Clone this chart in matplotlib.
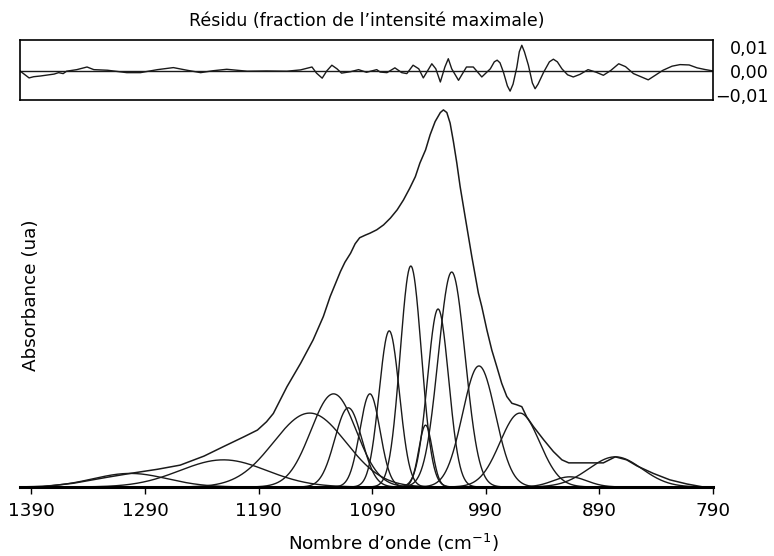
import numpy as np
import matplotlib
matplotlib.use("Agg")
import matplotlib.pyplot as plt

plt.rcParams['font.family'] = ['DejaVu Sans']

# measured spectrum (envelope), wavenumber in cm-1, absorbance normalised to max
env_wn = [1390, 1382, 1353, 1323, 1303, 1279, 1259, 1238, 1221, 1203, 1191, 1183, 1177,
          1165, 1153, 1142, 1133, 1127, 1121, 1118, 1114, 1109, 1105, 1101, 1096, 1092,
          1086, 1080, 1074, 1068, 1062.5, 1057, 1052, 1048, 1043, 1039, 1034.6, 1030,
          1027.3, 1024.3, 1021.4, 1018.5, 1015.5, 1012.6, 1008.2, 1002.3, 996.5, 993.5,
          989, 984.7, 980.3, 976, 971.5, 967, 962.7, 958.3, 954, 948, 939, 930.5, 923,
          917, 886.5, 876, 866, 857, 842.5, 828, 813, 798.5, 790]
env_abs = [0.0, 0.0, 0.010, 0.026, 0.036, 0.047, 0.058, 0.082, 0.107, 0.133, 0.151, 0.173, 0.195,
           0.266, 0.328, 0.390, 0.452, 0.505, 0.549, 0.571, 0.596, 0.620, 0.645, 0.661, 0.668, 0.673,
           0.682, 0.695, 0.713, 0.735, 0.761, 0.792, 0.823, 0.859, 0.894, 0.934, 0.969, 0.993,
           1.0, 0.993, 0.965, 0.916, 0.859, 0.797, 0.717, 0.611, 0.514, 0.478,
           0.416, 0.363, 0.319, 0.275, 0.240, 0.222, 0.218, 0.213, 0.186, 0.160, 0.125, 0.094, 0.072,
           0.064, 0.064, 0.080, 0.072, 0.056, 0.036, 0.019, 0.008, 0.0, 0.0]

# fitted components: centre (cm-1), height, fwhm (cm-1)
comp_center = [1303, 1221, 1145, 1124, 1111, 1092, 1075, 1056, 1043, 1032, 1020, 996, 960, 916, 876]
comp_height = [0.036, 0.072, 0.196, 0.247, 0.210, 0.247, 0.414, 0.586, 0.164, 0.472, 0.570, 0.321, 0.196, 0.027, 0.080]
comp_fwhm = [77, 90, 75, 47, 28, 21, 21, 22, 14, 22, 28, 34, 41, 35, 55]

# residual, in units of 1e-3 (fraction of max intensity)
res_wn = [1400, 1392, 1388, 1382, 1376, 1370, 1366, 1362, 1359, 1350, 1341, 1335, 1323,
          1306, 1294, 1279, 1265, 1253, 1241, 1230, 1218, 1200, 1183, 1165, 1153, 1143,
          1139, 1134, 1130, 1125.5, 1121, 1117, 1109, 1102, 1095, 1086,
          1083, 1077, 1070, 1064, 1059.5, 1054, 1049, 1045, 1037.5, 1034, 1030, 1026,
          1023, 1020, 1014, 1007, 1001, 993.5, 986, 982.5, 980, 977.5, 974.5, 971, 968.6,
          966, 962.7, 960.5, 958.3, 956, 952.5, 949, 946.6, 944, 939, 934, 930.5, 927,
          923, 918, 913, 907, 900, 893, 886.5, 880, 873, 867, 860, 847, 834, 826, 819,
          811, 804, 797, 790]
res_val = [0.0, -2.9, -2.4, -2.1, -1.7, -1.3, -0.7, -1.1, -0.1, 0.55, 1.65, 0.55, 0.3,
           -0.7, -0.7, 0.55, 1.4, 0.3, -0.7, 0.1, 0.7, -0.1, 0.0, -0.1, 0.45, 1.65,
           -0.9, -3.0, 0.0, 2.4, 0.9, -0.9, -0.3, 0.55, -0.55, 0.55,
           -0.45, -0.7, 1.3, -0.7, -1.1, 2.4, 0.9, -2.9, 3.0, 0.9, -4.6, 1.65,
           5.1, 0.9, -3.9, 1.65, 1.65, -2.5, 0.9, 3.8, 4.5, 3.4, -0.45, -6.2, -8.4,
           -5.5, 1.5, 8.0, 10.7, 8.0, 2.4, -5.0, -7.4, -5.5, -0.45, 3.8, 4.9, 3.8,
           0.9, -1.6, -2.5, -1.4, 0.55, -0.5, -1.8, 0.2, 3.0, 1.8, -1.1, -3.7, 0.3, 2.0, 2.65,
           2.5, 1.3, 0.6, 0.0]

res_ticks = [-0.01, 0.0, 0.01]
res_ticklabels = ['\u22120,01', '0,00', '0,01']
x_ticks = [1390, 1290, 1190, 1090, 990, 890, 790]

W, H = 774, 556
ink = '#1a1a1a'
fig = plt.figure(figsize=(W / 100, H / 100), dpi=100)

# main panel
ax = fig.add_axes([20 / W, 1 - 487 / H, 693 / W, 382 / H])
wn = np.linspace(1400, 790, 1500)
for c, h, f in zip(comp_center, comp_height, comp_fwhm):
    s = f / 2.3548
    ax.plot(wn, h * np.exp(-0.5 * ((wn - c) / s) ** 2), color=ink, lw=1.0)
ax.plot(env_wn, env_abs, color=ink, lw=1.1)
ax.set_xlim(1400, 790)
ax.set_ylim(0, 1.013)
for sp in ['top', 'left', 'right']:
    ax.spines[sp].set_visible(False)
ax.spines['bottom'].set_linewidth(2.2)
ax.set_yticks([])
ax.set_xticks(x_ticks)
ax.tick_params(axis='x', direction='out', length=5, width=1, pad=6, labelsize=13.2)

fig.text(393 / W, 1 - 543 / H, r'Nombre d’onde (cm$^{-1}$)', ha='center', va='center', fontsize=13.2)
fig.text(31 / W, 1 - 295 / H, 'Absorbance (ua)', ha='center', va='center', rotation=90, fontsize=13.2)

# residual panel
ar = fig.add_axes([20 / W, 1 - 100 / H, 693 / W, 60 / H])
ar.plot(res_wn, np.array(res_val) * 1e-3, color=ink, lw=1.0)
ar.axhline(0, color=ink, lw=1.0)
ar.set_xlim(1400, 790)
ar.set_ylim(-0.0121, 0.0129)
ar.set_xticks([])
ar.yaxis.tick_right()
ar.set_yticks(res_ticks)
ar.set_yticklabels(res_ticklabels)
ar.tick_params(axis='y', length=0, pad=40, labelsize=12.6)
for lab in ar.get_yticklabels():
    lab.set_horizontalalignment('right')
for sp in ar.spines.values():
    sp.set_linewidth(1.2)
ar.set_title('R\u00e9sidu (fraction de l\u2019intensit\u00e9 maximale)', fontsize=12.5, pad=10)

fig.savefig('out.png', dpi=100)
